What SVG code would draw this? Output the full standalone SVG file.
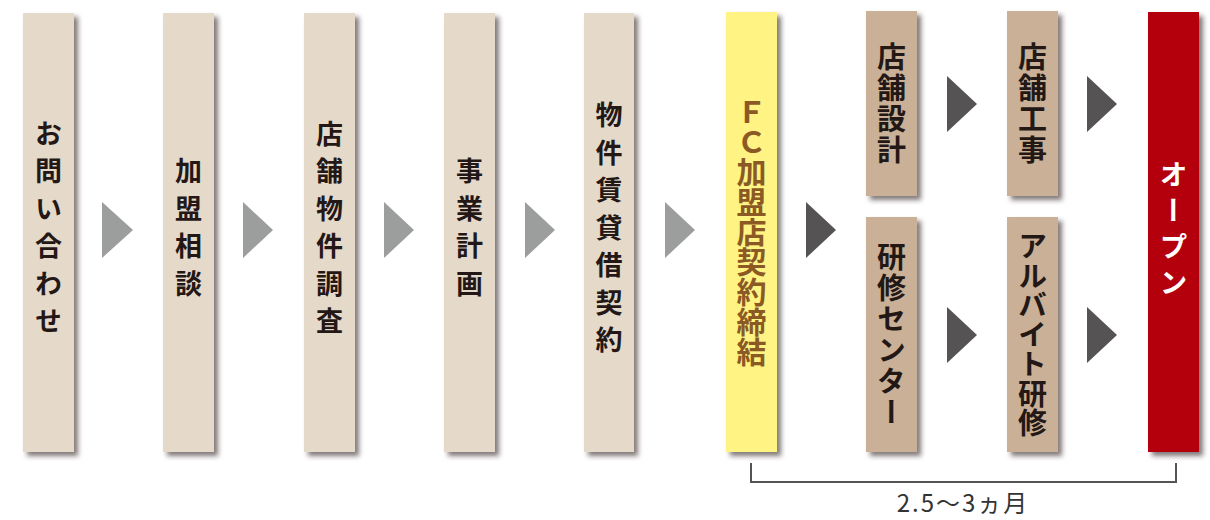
<svg xmlns="http://www.w3.org/2000/svg" width="1210" height="520" viewBox="0 0 1210 520">
<defs>
<filter id="sh" x="-30%" y="-10%" width="160%" height="120%">
<feDropShadow dx="4" dy="4" stdDeviation="2.5" flood-color="#2a2020" flood-opacity="0.6"/>
</filter>
</defs>
<style>
.b1{fill:#e5d9ca;filter:url(#sh)}
.b2{fill:#c9b096;filter:url(#sh)}
.fc{fill:#fff383;filter:url(#sh)}
.op{fill:#b40009;filter:url(#sh)}
.v{font-family:"Noto Sans CJK JP","Noto Sans",sans-serif;font-weight:700;writing-mode:vertical-rl;text-orientation:upright;text-anchor:middle;fill:#231815}
.t1{font-size:27px;letter-spacing:10.5px}
.t2{font-size:29px;letter-spacing:2px}
.tfc{font-size:30px;fill:#8b5a24}
.top{font-size:28px;letter-spacing:8px;fill:#fff}
.ag{fill:#9c9d9d}
.ad{fill:#555354}
.br{fill:none;stroke:#555354;stroke-width:2}
.lb{font-family:"Noto Sans CJK JP","Noto Sans",sans-serif;font-size:24px;fill:#333;text-anchor:middle;letter-spacing:2px}
</style>
<g id="n1"><rect class="b1" x="23" y="13" width="51" height="439"/><text class="v t1" x="48.5" y="232.5">お問い合わせ</text></g>
<g id="n2"><rect class="b1" x="163" y="13" width="51" height="439"/><text class="v t1" x="188.5" y="232.5">加盟相談</text></g>
<g id="n3"><rect class="b1" x="304" y="13" width="51" height="439"/><text class="v t1" x="329.5" y="232.5">店舗物件調査</text></g>
<g id="n4"><rect class="b1" x="444" y="13" width="51" height="439"/><text class="v t1" x="469.5" y="232.5">事業計画</text></g>
<g id="n5"><rect class="b1" x="584" y="13" width="50" height="439"/><text class="v t1" x="609" y="232.5">物件賃貸借契約</text></g>
<g id="n6"><rect class="fc" x="726" y="12" width="51" height="440"/><text class="v tfc" x="751.5" y="232">ＦＣ加盟店契約締結</text></g>
<g id="n7"><rect class="b2" x="866" y="11" width="51" height="185"/><text class="v t2" x="891.5" y="104">店舗設計</text></g>
<g id="n8"><rect class="b2" x="1007" y="11" width="51" height="185"/><text class="v t2" x="1032.5" y="104">店舗工事</text></g>
<g id="n9"><rect class="b2" x="866" y="217" width="51" height="235"/><text class="v t2" x="891.5" y="335">研修センター</text></g>
<g id="n10"><rect class="b2" x="1007" y="217" width="51" height="235"/><text class="v t2" x="1032.5" y="335" style="letter-spacing:0.5px">アルバイト研修</text></g>
<g id="n11"><rect class="op" x="1148" y="12" width="51" height="440"/><text class="v top" x="1173.5" y="232">オープン</text></g>
<g id="connectors">
<polygon class="ag" points="102,202 133,230 102,258"/>
<polygon class="ag" points="243,202 273,230 243,258"/>
<polygon class="ag" points="384,202 414,230 384,258"/>
<polygon class="ag" points="525,202 555,230 525,258"/>
<polygon class="ag" points="665,202 695,230 665,258"/>
<polygon class="ad" points="806,202 836,230 806,258"/>
<polygon class="ad" points="947,76 977,104 947,132"/>
<polygon class="ad" points="1087,76 1117,104 1087,132"/>
<polygon class="ad" points="947,307 977,335 947,363"/>
<polygon class="ad" points="1087,307 1117,335 1087,363"/>
<polyline class="br" points="751,463 751,482 1176,482 1176,463"/>
</g>
<text class="lb" x="963" y="512">2.5～3ヵ月</text>
</svg>
